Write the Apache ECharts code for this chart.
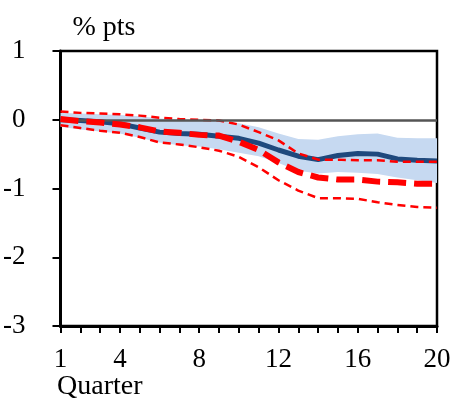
<!DOCTYPE html>
<html lang="en">
	<head>
		<meta charset="UTF-8" />
		<meta name="viewport" content="width=device-width, initial-scale=1.0" />
		<title>Quarter response</title>
		<style>
			* {
				box-sizing: border-box;
				margin: 0;
				padding: 0;
			}

			.container {
				width: 454px;
				height: 400px;
				background-color: #fff;
			}
		</style>
	</head>
	<body>
		<div class="container" id="chart"></div>
		<script src="https://cdn.jsdelivr.net/npm/echarts@6/dist/echarts.min.js"></script>
		<script>
			// quarters on the x axis
			var quarters = ['1', '2', '3', '4', '5', '6', '7', '8', '9', '10', '11', '12', '13', '14', '15', '16', '17', '18', '19', '20']
			// labelled quarters
			var xTickLabels = ['1', '4', '8', '12', '16', '20']

			// blue central line and its shaded band
			var blueLine = [0, -0.01, -0.03, -0.06, -0.12, -0.18, -0.2, -0.21, -0.24, -0.27, -0.34, -0.44, -0.53, -0.58, -0.52, -0.49, -0.5, -0.57, -0.59, -0.6]
			var bandUpper = [0.1, 0.09, 0.08, 0.07, 0.05, 0.02, 0, -0.01, -0.02, -0.05, -0.11, -0.2, -0.28, -0.29, -0.24, -0.21, -0.2, -0.26, -0.27, -0.27]
			var bandLower = [-0.1, -0.14, -0.17, -0.2, -0.26, -0.33, -0.37, -0.39, -0.43, -0.48, -0.53, -0.63, -0.74, -0.78, -0.76, -0.77, -0.79, -0.84, -0.88, -0.92]

			// red central (thick dashed) and bounds (thin dashed)
			var redLine = [0.01, -0.02, -0.04, -0.07, -0.11, -0.17, -0.19, -0.22, -0.23, -0.32, -0.44, -0.62, -0.76, -0.84, -0.87, -0.87, -0.9, -0.91, -0.93, -0.93]
			var redUpper = [0.12, 0.1, 0.09, 0.08, 0.06, 0.03, 0.01, 0, -0.01, -0.07, -0.18, -0.3, -0.49, -0.58, -0.58, -0.59, -0.59, -0.61, -0.61, -0.61]
			var redLower = [-0.08, -0.12, -0.16, -0.19, -0.25, -0.33, -0.36, -0.4, -0.45, -0.54, -0.69, -0.88, -1.03, -1.14, -1.14, -1.15, -1.2, -1.24, -1.27, -1.28]

			var fontFamily = '"Liberation Serif", "Times New Roman", serif'

			// band drawn as lower edge + stacked width
			var bandWidth = bandUpper.map(function (v, i) {
				return +(v - bandLower[i]).toFixed(2)
			})

			var chart = echarts.init(document.getElementById('chart'))
			chart.setOption({
				animation: false,
				grid: {
					top: 51,
					left: 60,
					right: 17,
					bottom: 74,
					show: true,
					borderColor: '#000',
					borderWidth: 2.5
				},
				graphic: [{
					type: 'text',
					left: 57,
					top: 373,
					style: {
						text: 'Quarter',
						fill: '#000',
						font: '28px ' + fontFamily
					}
				}],
				xAxis: {
					type: 'category',
					data: quarters,
					boundaryGap: false,
					axisLine: {
						onZero: false,
						lineStyle: { color: '#000', width: 3 }
					},
					axisTick: {
						interval: 0,
						length: 7,
						lineStyle: { color: '#000', width: 2 }
					},
					splitLine: { show: false },
					axisLabel: {
						interval: 0,
						margin: 20,
						color: '#000',
						fontSize: 27,
						fontFamily: fontFamily,
						formatter: function (v) {
							return xTickLabels.indexOf(v) >= 0 ? v : ''
						}
					}
				},
				yAxis: {
					type: 'value',
					min: -3,
					max: 1,
					interval: 1,
					name: '% pts',
					nameLocation: 'end',
					nameGap: 9,
					nameTextStyle: {
						color: '#000',
						fontSize: 28,
						fontFamily: fontFamily,
						align: 'left',
						padding: [0, 0, 0, 12]
					},
					axisLine: {
						show: true,
						lineStyle: { color: '#000', width: 3 }
					},
					axisTick: {
						show: true,
						length: 8,
						lineStyle: { color: '#000', width: 2 }
					},
					splitLine: { show: false },
					axisLabel: {
						margin: 35,
						color: '#000',
						fontSize: 27,
						fontFamily: fontFamily
					}
				},
				series: [{
						name: 'bandBase',
						type: 'line',
						stack: 'band',
						stackStrategy: 'all',
						data: bandLower,
						symbol: 'none',
						silent: true,
						lineStyle: { opacity: 0 },
						z: 1
					},
					{
						name: 'band',
						type: 'line',
						stack: 'band',
						stackStrategy: 'all',
						data: bandWidth,
						symbol: 'none',
						silent: true,
						lineStyle: { opacity: 0 },
						areaStyle: { color: '#c6d9f1', opacity: 1 },
						z: 1,
						markLine: {
							silent: true,
							symbol: 'none',
							label: { show: false },
							lineStyle: { color: '#555555', width: 2.5, type: 'solid' },
							data: [{ yAxis: 0 }]
						}
					},
					{
						name: 'blue',
						type: 'line',
						data: blueLine,
						symbol: 'none',
						lineStyle: { color: '#1f497d', width: 5 },
						z: 3
					},
					{
						name: 'redUpper',
						type: 'line',
						data: redUpper,
						symbol: 'none',
						lineStyle: { color: '#ff0000', width: 2.5, type: [8, 5] },
						z: 4
					},
					{
						name: 'redLower',
						type: 'line',
						data: redLower,
						symbol: 'none',
						lineStyle: { color: '#ff0000', width: 2.5, type: [8, 5] },
						z: 4
					},
					{
						name: 'red',
						type: 'line',
						data: redLine,
						symbol: 'none',
						lineStyle: { color: '#ff0000', width: 6, type: [18, 8] },
						z: 5
					}
				]
			})
		</script>
	</body>
</html>
